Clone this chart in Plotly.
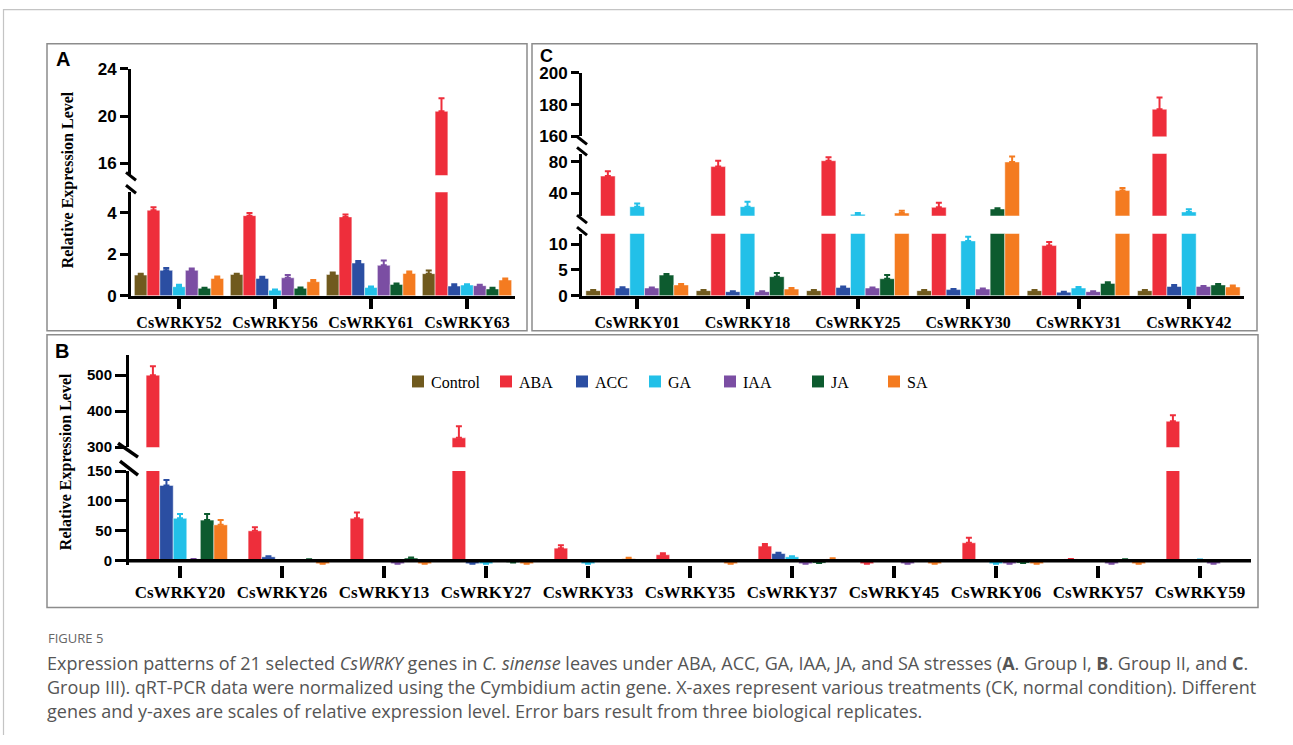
import plotly.graph_objects as go

W, H = 1293, 745
# observed rendering: drawing area is 1293 x 729 starting 8 px from the top
TOP, HH = 8, 729


def fx(X):
    return X / W


def fy(Y):
    return 1 - (Y - TOP) / HH


treatments = ["Control", "ABA", "ACC", "GA", "IAA", "JA", "SA"]
colors = ["#705a1e", "#ee2e3b", "#2b4ea2", "#22c0e8", "#7b4ea3", "#0d5b2f", "#f47b20"]

# ---------------- Panel A (Group I) ----------------
genes_a = ["CsWRKY52", "CsWRKY56", "CsWRKY61", "CsWRKY63"]
a_control = [1.00, 1.03, 1.03, 1.07]
a_aba = [4.13, 3.87, 3.81, 20.4]
a_acc = [1.23, 0.84, 1.58, 0.47]
a_ga = [0.44, 0.27, 0.40, 0.52]
a_iaa = [1.23, 0.87, 1.47, 0.49]
a_ja = [0.36, 0.36, 0.55, 0.33]
a_sa = [0.84, 0.68, 1.08, 0.76]
a_control_err = [0.06, 0.04, 0.09, 0.15]
a_aba_err = [0.15, 0.13, 0.11, 1.1]
a_acc_err = [0.11, 0.08, 0.10, 0.09]
a_ga_err = [0.10, 0.03, 0.05, 0.04]
a_iaa_err = [0.09, 0.13, 0.24, 0.04]
a_ja_err = [0.03, 0.04, 0.05, 0.06]
a_sa_err = [0.09, 0.08, 0.09, 0.08]

# ---------------- Panel C (Group III) ----------------
genes_c = ["CsWRKY01", "CsWRKY18", "CsWRKY25", "CsWRKY30", "CsWRKY31", "CsWRKY42"]
c_control = [1.0, 1.0, 1.0, 1.0, 1.0, 1.0]
c_aba = [61.9, 73.8, 81.2, 22.7, 9.7, 177.1]
c_acc = [1.5, 0.8, 1.6, 1.2, 0.7, 1.8]
c_ga = [23.5, 23.5, 14.0, 10.6, 1.5, 16.9]
c_iaa = [1.5, 0.8, 1.5, 1.3, 0.8, 1.8]
c_ja = [4.0, 3.7, 3.3, 20.6, 2.4, 2.1]
c_sa = [2.1, 1.3, 15.5, 79.6, 43.7, 1.7]
c_control_err = [0.1, 0.1, 0.1, 0.1, 0.1, 0.1]
c_aba_err = [6.1, 7.4, 4.2, 5.8, 0.7, 7.4]
c_acc_err = [0.15, 0.1, 0.2, 0.1, 0.1, 0.3]
c_ga_err = [4.1, 6.2, 1.5, 0.8, 0.2, 3.3]
c_iaa_err = [0.1, 0.1, 0.1, 0.1, 0.1, 0.1]
c_ja_err = [0.2, 0.7, 0.7, 1.0, 0.2, 0.2]
c_sa_err = [0.2, 0.2, 2.9, 7.0, 3.3, 0.3]

# ---------------- Panel B (Group II) ----------------
genes_b = ["CsWRKY20", "CsWRKY26", "CsWRKY13", "CsWRKY27", "CsWRKY33", "CsWRKY35",
           "CsWRKY37", "CsWRKY45", "CsWRKY06", "CsWRKY57", "CsWRKY59"]
b_control = [1, 1, 1, 1, 1, 1, 1, 1, 1, 1, 1]
b_aba = [500, 50, 71, 326, 21, 10, 24.5, -5, 30, 3, 372]
b_acc = [126, 6.5, 0, -5, 0, 0, 12, 0, 0, 0, 0]
b_ga = [71, 0, 0, -5, -5, 0, 6.5, 0, -5, 0, 2]
b_iaa = [3, 0, -5, 0, 0, 0, -5, -5, -5, -5, -5]
b_ja = [68, 2.5, 4.5, -3, 0, 0, -4, 0, -4, 2.5, 0]
b_sa = [60, -5, -5, -5, 3.5, -5, 3, -5, -5, -5, 0]
b_control_err = [None] * 11
b_aba_err = [25, 6, 9.5, 32, 5, 2.5, 3.5, None, 8.5, None, 17]
b_acc_err = [9, 1, None, None, None, None, 1.5, None, None, None, None]
b_ga_err = [7, None, None, None, None, None, 1, None, None, None, None]
b_iaa_err = [None] * 11
b_ja_err = [10, None, 1, None, None, None, None, None, None, None, None]
b_sa_err = [8, None, None, None, 1.5, None, 1, None, None, None, None]

a_vals = [a_control, a_aba, a_acc, a_ga, a_iaa, a_ja, a_sa]
a_errs = [a_control_err, a_aba_err, a_acc_err, a_ga_err, a_iaa_err, a_ja_err, a_sa_err]
c_vals = [c_control, c_aba, c_acc, c_ga, c_iaa, c_ja, c_sa]
c_errs = [c_control_err, c_aba_err, c_acc_err, c_ga_err, c_iaa_err, c_ja_err, c_sa_err]
b_vals = [b_control, b_aba, b_acc, b_ga, b_iaa, b_ja, b_sa]
b_errs = [b_control_err, b_aba_err, b_acc_err, b_ga_err, b_iaa_err, b_ja_err, b_sa_err]

# y-axis segments of the broken axes: (axis name, value range)
seg_a = [("y", (0, 5)), ("y2", (15, 24))]
seg_c = [("y3", (0, 12)), ("y4", (12, 90)), ("y5", (160, 200))]
seg_b = [("y6", (-7, 150)), ("y7", (300, 555))]

panels = [
    ("x", genes_a, a_vals, a_errs, seg_a),
    ("x2", genes_c, c_vals, c_errs, seg_c),
    ("x3", genes_b, b_vals, b_errs, seg_b),
]

fig = go.Figure()
for xa, genes, vals, errs, segs in panels:
    for ya, (lo, hi) in segs:
        for i, t in enumerate(treatments):
            # error bar only drawn in the segment that holds the bar top
            seg_err = [e if (e is not None and lo <= v <= hi) else None
                       for v, e in zip(vals[i], errs[i])]
            fig.add_trace(go.Bar(
                x=genes, y=vals[i], xaxis=xa, yaxis=ya, name=t, legendgroup=t,
                showlegend=False,
                marker=dict(color=colors[i], line=dict(color="rgba(255,255,255,0.8)", width=0.6)),
                error_y=dict(type="data", symmetric=False, array=seg_err,
                             arrayminus=[0] * len(genes), color=colors[i],
                             thickness=2, width=3),
                hoverinfo="x+y+name",
            ))

tick_sans = dict(family="Liberation Sans, Arial, sans-serif", size=17, color="black", weight="bold")
tick_sans_b = dict(family="Liberation Sans, Arial, sans-serif", size=15, color="black", weight="bold")
cat_serif = dict(family="Liberation Serif, Times New Roman, serif", size=16, color="black", weight="bold")
cat_serif_b = dict(family="Liberation Serif, Times New Roman, serif", size=17, color="black", weight="bold")

common_y = dict(showgrid=False, zeroline=False, showline=True, linecolor="black", linewidth=3,
                ticks="outside", ticklen=8, tickwidth=3, tickcolor="black", fixedrange=True)
common_x = dict(type="category", showgrid=False, zeroline=False, ticks="outside", tickwidth=4,
                tickcolor="black", linecolor="black", linewidth=3, fixedrange=True)

fig.update_layout(
    width=W, height=H, margin=dict(l=0, r=0, t=0, b=0),
    paper_bgcolor="white", plot_bgcolor="rgba(0,0,0,0)",
    barmode="group", bargap=0.07, bargroupgap=0, showlegend=False,
    xaxis=dict(common_x, domain=[fx(131), fx(515)], anchor="y", showline=True, ticklen=10,
               tickfont=cat_serif),
    yaxis=dict(common_y, domain=[fy(296), fy(192)], range=list(seg_a[0][1]), anchor="x",
               tickvals=[0, 2, 4], tickfont=tick_sans),
    yaxis2=dict(common_y, domain=[fy(175), fy(68)], range=list(seg_a[1][1]), anchor="x",
                tickvals=[16, 20, 24], tickfont=tick_sans),
    xaxis2=dict(common_x, domain=[fx(582), fx(1244)], anchor="y3", showline=True, ticklen=10,
                tickfont=cat_serif),
    yaxis3=dict(common_y, domain=[fy(296), fy(233.6)], range=list(seg_c[0][1]), anchor="x2",
                tickvals=[0, 5, 10], tickfont=tick_sans),
    yaxis4=dict(common_y, domain=[fy(215.7), fy(153.3)], range=list(seg_c[1][1]), anchor="x2",
                tickvals=[40, 80], tickfont=tick_sans),
    yaxis5=dict(common_y, domain=[fy(136), fy(72)], range=list(seg_c[2][1]), anchor="x2",
                tickvals=[160, 180, 200], tickfont=tick_sans),
    xaxis3=dict(common_x, domain=[fx(129), fx(1251)], anchor="y6", showline=False, ticklen=12,
                tickfont=cat_serif_b),
    yaxis6=dict(common_y, domain=[fy(566.2), fy(472)], range=list(seg_b[0][1]), anchor="x3",
                tickvals=[0, 50, 100, 150], tickfont=tick_sans_b, ticklen=11),
    yaxis7=dict(common_y, domain=[fy(448), fy(355.8)], range=list(seg_b[1][1]), anchor="x3",
                tickvals=[300, 400, 500], tickfont=tick_sans_b, ticklen=11),
)

shapes = []
# panel frames
box = dict(type="rect", xref="paper", yref="paper", line=dict(color="#8c8c8c", width=1.5),
           fillcolor="rgba(0,0,0,0)", layer="below")
shapes.append(dict(box, x0=fx(47), x1=fx(527), y0=fy(331), y1=fy(43)))
shapes.append(dict(box, x0=fx(532), x1=fx(1257), y0=fy(331), y1=fy(43)))
shapes.append(dict(box, x0=fx(47), x1=fx(1258), y0=fy(609), y1=fy(335)))
# outer page lines
shapes.append(dict(type="line", xref="paper", yref="paper", x0=fx(3), x1=1, y0=fy(8.6), y1=fy(8.6),
                   line=dict(color="#c4c4c4", width=1.2)))
shapes.append(dict(type="line", xref="paper", yref="paper", x0=fx(3.5), x1=fx(3.5), y0=fy(8), y1=0,
                   line=dict(color="#c4c4c4", width=1.2)))
# panel B x-axis line at zero
shapes.append(dict(type="line", xref="x3 domain", yref="y6", x0=0, x1=1, y0=0, y1=0,
                   line=dict(color="black", width=3.5), layer="above"))


def brk(X, Y, dx0, dy0, dx1, dy1, w=3):
    return dict(type="line", xref="paper", yref="paper", x0=fx(X + dx0), y0=fy(Y + dy0),
                x1=fx(X + dx1), y1=fy(Y + dy1), line=dict(color="black", width=w))


# axis break marks
shapes.append(brk(131, 176, -5, -4, 5, 4))
shapes.append(brk(131, 189, -5, -4, 5, 4))
shapes.append(brk(582, 140, -5, -4, 5, 4))
shapes.append(brk(582, 151, -5, -4, 5, 4))
shapes.append(brk(582, 219, -5, -4, 5, 4))
shapes.append(brk(582, 231, -5, -4, 5, 4))
shapes.append(brk(129, 451, -11, -7, 9, 7, 3.5))
shapes.append(brk(129, 469, -9, -7, 9, 7, 3.5))

# legend (drawn manually to follow the reference's uneven spacing)
legend_x = [418, 506, 582, 655, 730, 818, 894]
legend_y = 382
for i, t in enumerate(treatments):
    shapes.append(dict(type="rect", xref="paper", yref="paper",
                       x0=fx(legend_x[i] - 6), x1=fx(legend_x[i] + 6),
                       y0=fy(legend_y + 6), y1=fy(legend_y - 6),
                       fillcolor=colors[i], line=dict(width=0)))
fig.update_layout(shapes=shapes)

ann = []
legend_font = dict(family="Liberation Serif, Times New Roman, serif", size=16, color="black")
for i, t in enumerate(treatments):
    ann.append(dict(text=t, x=fx(legend_x[i] + 11), y=fy(legend_y + 1), xref="paper", yref="paper",
                    xanchor="left", yanchor="middle", showarrow=False, font=legend_font))

letter = dict(family="Liberation Sans, Arial, sans-serif", size=20, color="black", weight="bold")
ann.append(dict(text="A", x=fx(54), y=fy(58), xref="paper", yref="paper", xanchor="left",
                yanchor="middle", showarrow=False, font=letter))
ann.append(dict(text="C", x=fx(538), y=fy(55), xref="paper", yref="paper", xanchor="left",
                yanchor="middle", showarrow=False,
                font=dict(family="Liberation Sans, Arial, sans-serif", size=18, color="black",
                          weight="bold")))
ann.append(dict(text="B", x=fx(53), y=fy(351), xref="paper", yref="paper", xanchor="left",
                yanchor="middle", showarrow=False, font=letter))
ytitle = dict(family="Liberation Serif, Times New Roman, serif", size=16, color="black", weight="bold")
ann.append(dict(text="Relative Expression Level", x=fx(68), y=fy(180), xref="paper", yref="paper",
                textangle=-90, showarrow=False, font=ytitle, xanchor="center", yanchor="middle"))
ann.append(dict(text="Relative Expression Level", x=fx(66), y=fy(463), xref="paper", yref="paper",
                textangle=-90, showarrow=False, font=ytitle, xanchor="center", yanchor="middle"))

cap_font = dict(family="Open Sans, sans-serif", size=18, color="#555555")
ann.append(dict(text="FIGURE 5", x=fx(46), y=fy(640), xref="paper", yref="paper", xanchor="left",
                yanchor="middle", showarrow=False,
                font=dict(family="Open Sans, sans-serif", size=13, color="#666666")))
cap_lines = [
    "Expression patterns of 21 selected <i>CsWRKY</i> genes in <i>C. sinense</i> leaves under ABA, ACC, GA, IAA, JA, and SA stresses (<b>A</b>. Group I, <b>B</b>. Group II, and <b>C</b>.",
    "Group III). qRT-PCR data were normalized using the Cymbidium actin gene. X-axes represent various treatments (CK, normal condition). Different",
    "genes and y-axes are scales of relative expression level. Error bars result from three biological replicates.",
]
for k, line in enumerate(cap_lines):
    ann.append(dict(text=line, x=fx(45), y=fy(665 + 24 * k), xref="paper", yref="paper",
                    xanchor="left", yanchor="middle", showarrow=False, font=cap_font))
fig.update_layout(annotations=ann)

fig.write_html("out.html", config={"displayModeBar": False},
               post_script="document.body.style.margin='0';document.body.style.overflow='hidden';")
